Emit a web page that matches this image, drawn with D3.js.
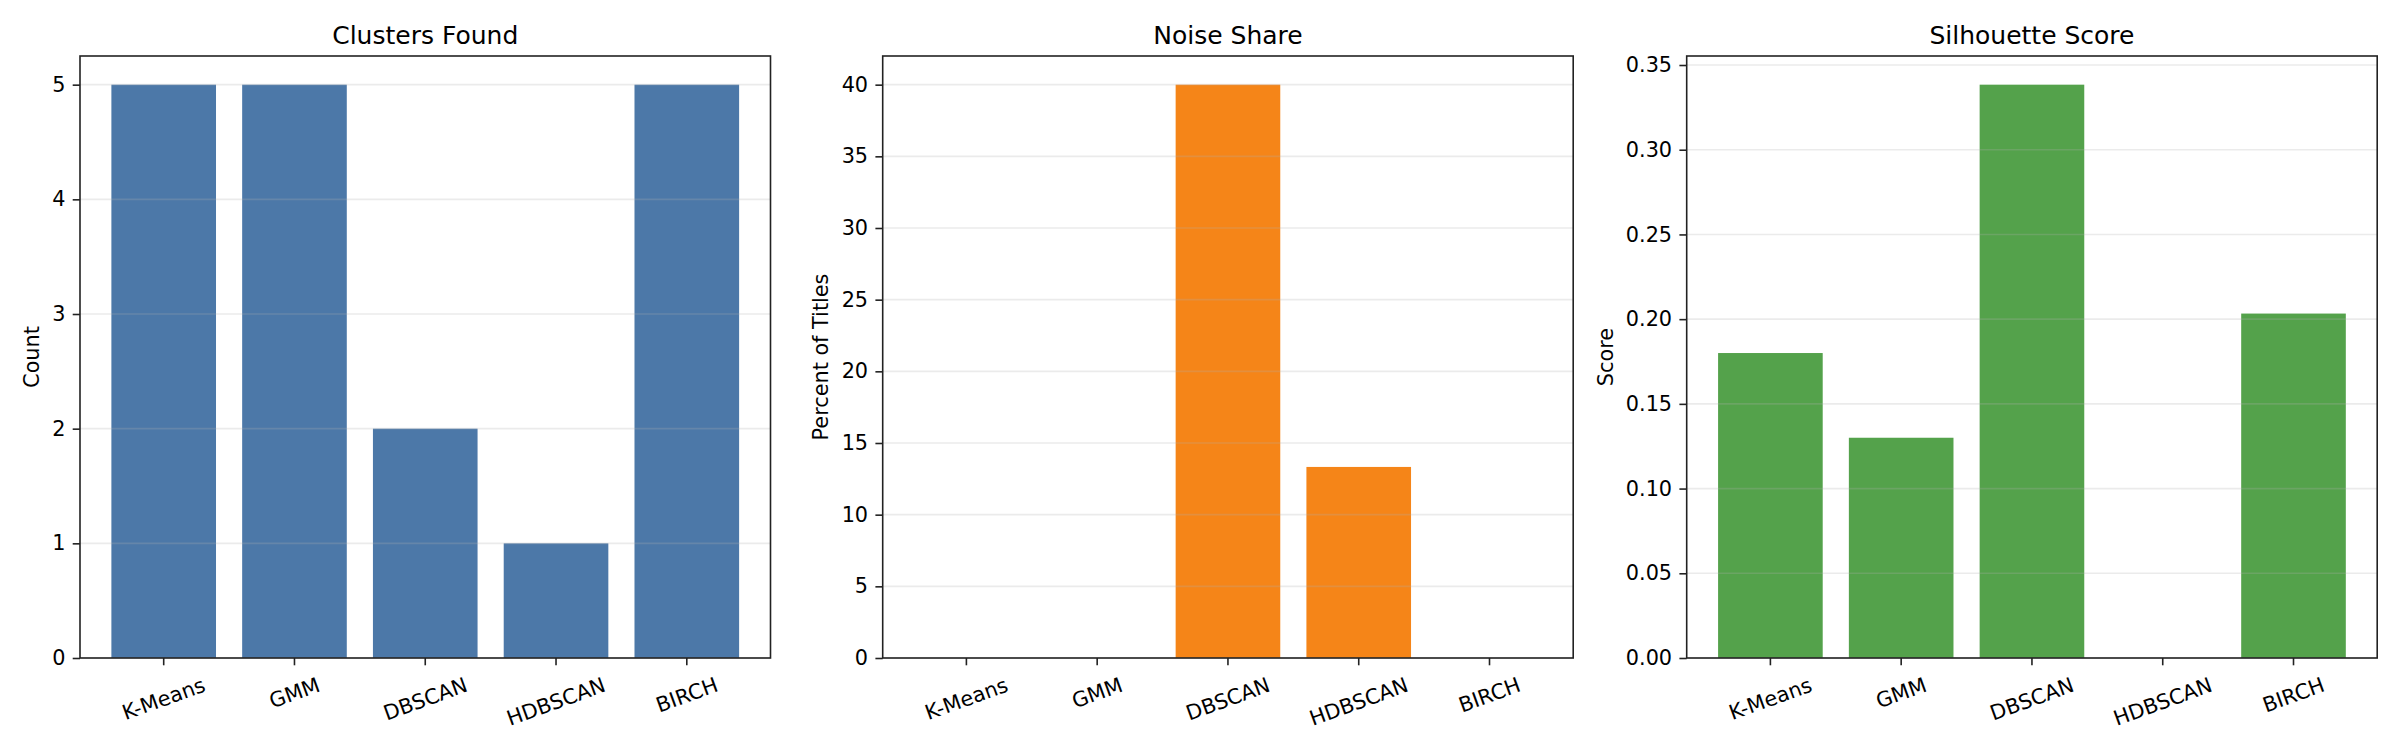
<!DOCTYPE html>
<html>
<head>
<meta charset="utf-8">
<script src="https://cdn.jsdelivr.net/npm/d3@7"></script>
<style>
  body { margin: 0; background: #fff; }
  svg text { font-family: "DejaVu Sans", sans-serif; fill: #000; }
</style>
</head>
<body>
<script>
const methods = ["K-Means", "GMM", "DBSCAN", "HDBSCAN", "BIRCH"];

const clustersFound = [5, 5, 2, 1, 5];
const noiseShare = [0, 0, 40, 13.33, 0];
const silhouette = [0.180, 0.130, 0.3384, 0, 0.2033];

const clusterTicks = [0, 1, 2, 3, 4, 5];
const noiseTicks = [0, 5, 10, 15, 20, 25, 30, 35, 40];
const silhouetteTicks = [0, 0.05, 0.1, 0.15, 0.2, 0.25, 0.3, 0.35];

const width = 2400;
const height = 750;
const plotTop = 56;
const plotBottom = 658;
const panelWidth = 690.5;

const svg = d3
  .select("body")
  .append("svg")
  .attr("width", width)
  .attr("height", height);

const panels = [
  { title: "Clusters Found", ylabel: "Count", values: clustersFound, ticks: clusterTicks, fmt: d3.format("d"), color: "#4c78a8", left: 80 },
  { title: "Noise Share", ylabel: "Percent of Titles", values: noiseShare, ticks: noiseTicks, fmt: d3.format("d"), color: "#f58518", left: 882.7 },
  { title: "Silhouette Score", ylabel: "Score", values: silhouette, ticks: silhouetteTicks, fmt: d3.format(".2f"), color: "#54a24b", left: 1686.7 },
];

const tickLen = 7.3;
const tickPad = 7.3;
const fontSize = 20.8;

panels.forEach((p) => {
  const right = p.left + panelWidth;
  const g = svg.append("g");

  const xScale = d3
    .scaleBand()
    .domain(methods)
    .range([p.left, right])
    .paddingInner(0.2)
    .paddingOuter(0.24);

  const yScale = d3
    .scaleLinear()
    .domain([0, d3.max(p.values) * 1.05])
    .range([plotBottom, plotTop]);

  // bars
  g.selectAll("rect.bar")
    .data(p.values)
    .enter()
    .append("rect")
    .attr("class", "bar")
    .attr("x", (d, i) => xScale(methods[i]))
    .attr("width", xScale.bandwidth())
    .attr("y", (d) => yScale(d))
    .attr("height", (d) => plotBottom - yScale(d))
    .attr("fill", p.color);

  // light horizontal grid, drawn over the bars like the original
  g.selectAll("line.grid")
    .data(p.ticks)
    .enter()
    .append("line")
    .attr("class", "grid")
    .attr("x1", p.left)
    .attr("x2", right)
    .attr("y1", (d) => yScale(d))
    .attr("y2", (d) => yScale(d))
    .attr("stroke", "#b0b0b0")
    .attr("stroke-opacity", 0.25)
    .attr("stroke-width", 1.6);

  // y axis
  const yAxis = d3
    .axisLeft(yScale)
    .tickValues(p.ticks)
    .tickFormat(p.fmt)
    .tickSize(tickLen)
    .tickPadding(tickPad);

  const yg = g
    .append("g")
    .attr("transform", `translate(${p.left}, 0)`)
    .call(yAxis);
  yg.select(".domain").remove();
  yg.selectAll(".tick line").attr("stroke", "#222").attr("stroke-width", 1.6);
  yg.selectAll(".tick text")
    .style("font-size", fontSize + "px")
    .style("font-family", "DejaVu Sans")
    .attr("fill", "#000");

  // x ticks with rotated labels
  const xt = g
    .selectAll("g.xtick")
    .data(methods)
    .enter()
    .append("g")
    .attr("class", "xtick");

  xt.append("line")
    .attr("x1", (d) => xScale(d) + xScale.bandwidth() / 2)
    .attr("x2", (d) => xScale(d) + xScale.bandwidth() / 2)
    .attr("y1", plotBottom)
    .attr("y2", plotBottom + tickLen)
    .attr("stroke", "#222")
    .attr("stroke-width", 1.6);

  xt.append("text")
    .attr("text-anchor", "middle")
    .attr("dy", (fontSize * 0.346).toFixed(1) + "px")
    .style("font-size", fontSize + "px")
    .text((d) => d)
    .attr("transform", function (d) {
      const w = this.getComputedTextLength();
      const h = fontSize * 1.164;
      const H = w * Math.sin(Math.PI / 9) + h * Math.cos(Math.PI / 9);
      const cx = xScale(d) + xScale.bandwidth() / 2;
      const cy = plotBottom + tickLen + tickPad + H / 2;
      return `translate(${cx}, ${cy}) rotate(-20)`;
    });

  // frame
  g.append("rect")
    .attr("x", p.left)
    .attr("y", plotTop)
    .attr("width", panelWidth)
    .attr("height", plotBottom - plotTop)
    .attr("fill", "none")
    .attr("stroke", "#222")
    .attr("stroke-width", 1.6);

  // title
  g.append("text")
    .attr("x", p.left + panelWidth / 2)
    .attr("y", 44)
    .attr("text-anchor", "middle")
    .style("font-size", "25px")
    .text(p.title);

  // y label, placed left of the widest tick label
  let maxW = 0;
  yg.selectAll(".tick text").each(function () {
    maxW = Math.max(maxW, this.getComputedTextLength());
  });
  const lx = p.left - tickLen - tickPad - maxW - 8.3 - fontSize * 0.236;
  g.append("text")
    .attr("transform", `translate(${lx}, ${(plotTop + plotBottom) / 2}) rotate(-90)`)
    .attr("text-anchor", "middle")
    .style("font-size", fontSize + "px")
    .text(p.ylabel);
});
</script>
</body>
</html>
